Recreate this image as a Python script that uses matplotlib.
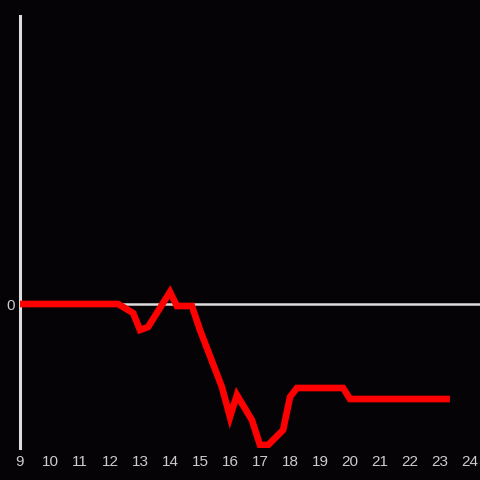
import numpy as np
import matplotlib.pyplot as plt

# hour of day and value (arbitrary units)
hours = [9.0, 12.27, 12.77, 13.0, 13.27, 14.0, 14.23, 14.73, 15.0, 15.73,
         16.0, 16.23, 16.73, 17.0, 17.27, 17.77, 18.0, 18.23, 19.77, 20.0, 23.33]
values = [0.0, 0.0, -0.9, -2.6, -2.3, 1.2, -0.2, -0.2, -2.6, -8.3,
          -11.3, -9.1, -11.6, -14.1, -14.1, -12.6, -9.3, -8.4, -8.4, -9.5, -9.5]
xticks = list(range(9, 25))

bg = '#050306'
fig = plt.figure(figsize=(4.8, 4.8), dpi=100, facecolor=bg)
ax = fig.add_axes([20/480, 32/480, 460/480, 432/480], facecolor=bg)

ax.axhline(0, color='#dddddd', lw=1.8, zorder=1)
ax.plot(hours, values, color='#ff0000', lw=4.8, solid_capstyle='butt',
        solid_joinstyle='miter', zorder=3)

ax.set_xlim(9, 9 + 460/30)
ax.set_ylim(-14.4, 28.8)

for s in ['top', 'right', 'bottom']:
    ax.spines[s].set_visible(False)
ax.spines['left'].set_color('#dddddd')
ax.spines['left'].set_linewidth(2.2)

ax.set_xticks(xticks)
ax.set_xticklabels([str(t) for t in xticks])
ax.set_yticks([0])
ax.set_yticklabels(['0'])
ax.tick_params(axis='both', length=0, colors='#cccccc', labelsize=11)
ax.tick_params(axis='x', pad=5)
ax.tick_params(axis='y', pad=4)
for lab in ax.get_xticklabels() + ax.get_yticklabels():
    lab.set_fontfamily('Liberation Sans')

fig.savefig('out.png', dpi=100, facecolor=bg)
